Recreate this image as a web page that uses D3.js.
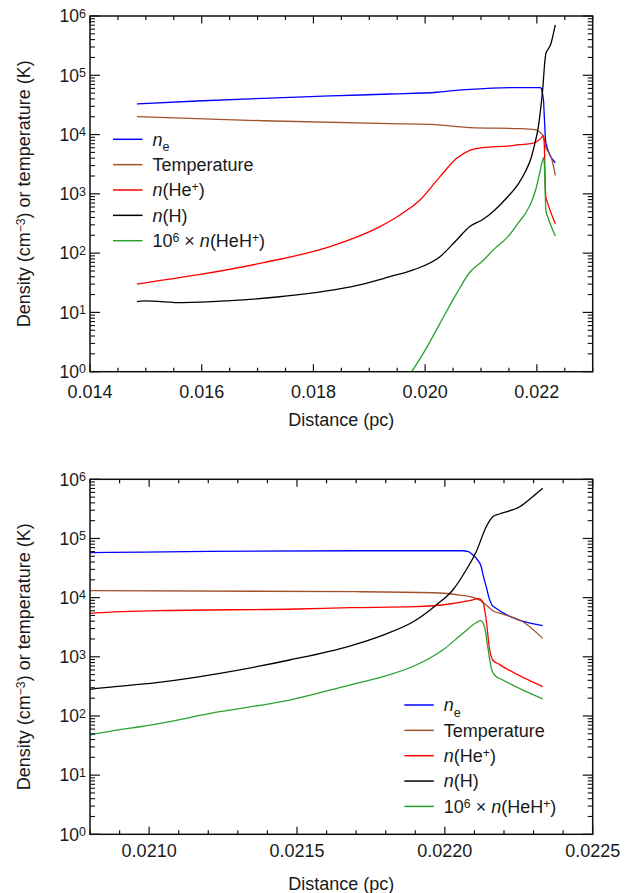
<!DOCTYPE html>
<html><head><meta charset="utf-8">
<script src="https://cdn.jsdelivr.net/npm/d3@7"></script>
<style>
body{margin:0;background:#fff}
text{font-family:"Liberation Sans",Arial,Helvetica,sans-serif;fill:#1a1a1a}
</style>
</head><body>
<svg id="c" width="630" height="893"></svg>
<script>
// ---------------- data (distance in pc, value) ----------------
const neData = [
  [0.01484,3.28e4],[0.01592,3.68e4],[0.01710,4.09e4],[0.01830,4.48e4],[0.01937,4.83e4],
  [0.02021,5.17e4],[0.02050,5.5e4],[0.02080,5.78e4],[0.02098,5.9e4],[0.02120,6.05e4],
  [0.02170,6.2e4],[0.02206,6.2e4],[0.02208,6.0e4],[0.022095,5.25e4],[0.022111,4.32e4],
  [0.022123,3.33e4],[0.022128,2.58e4],[0.02214,1.53e4],[0.02215,9.7e3],[0.022162,7.2e3],
  [0.022331,3.35e3]
];
const tempData = [
  [0.01484,2.0e4],[0.01710,1.71e4],[0.01937,1.53e4],[0.02009,1.49e4],[0.02040,1.42e4],[0.02057,1.36e4],
  [0.02080,1.31e4],[0.02170,1.26e4],[0.021959,1.21e4],[0.02205,1.107e4],[0.022106,9.7e3],
  [0.02214,7.5e3],[0.022162,6.0e3],[0.022196,5.28e3],[0.022264,3.92e3],[0.022331,2.05e3]
];
const heData = [
  [0.01484,30.1],[0.015916,42.8],[0.017103,69],[0.018297,128.5],[0.01919,280],[0.01955,440],
  [0.019908,787],[0.020266,1950],[0.020565,3980],[0.02080,5430],[0.021025,6010],[0.02150,6430],
  [0.02168,6760],[0.02190,7030],[0.022016,7800],[0.022083,8870],[0.022115,9600],[0.022128,8530],
  [0.02214,4190],[0.02215,1480],[0.022162,883],[0.022184,746],[0.022331,313]
];
const hData = [
  [0.01484,15.2],[0.01497,15.6],[0.01567,14.6],[0.01651,15.8],[0.01770,19.7],[0.01889,30.1],
  [0.019371,40.1],[0.019789,52],[0.020266,87],[0.020565,167],[0.02080,282],[0.021025,365],
  [0.021239,526],[0.021475,883],[0.021678,1520],[0.021791,2330],[0.021903,4190],[0.021971,7500],
  [0.022027,1.346e4],[0.022072,2.93e4],[0.022106,5.97e4],[0.02214,1.58e5],[0.022162,2.33e5],
  [0.022184,2.59e5],[0.022253,3.44e5],[0.022297,5.08e5],[0.022331,7.05e5]
];
const hehData = [
  [0.01960,0.57],[0.01976,1.0],[0.019967,2.04],[0.020266,6.55],[0.020565,21.0],[0.02080,47.6],
  [0.021025,73.1],[0.021239,118],[0.021475,186],[0.021678,333],[0.021791,461],[0.021903,726],
  [0.021993,1303],[0.022061,2495],[0.022106,3767],[0.022121,4074],[0.022134,3228],[0.022145,1483],
  [0.022157,638],[0.022168,492],[0.022196,406],[0.022331,194]
];
const yTickValues = [1,10,100,1e3,1e4,1e5,1e6];
const xTicksTop = [0.014,0.016,0.018,0.020,0.022];
const xTicksBottom = [0.0210,0.0215,0.0220,0.0225];

const seriesList = [
  {data:neData,   color:"#0000ff", label:[{t:"n",i:1},{t:"e",sub:1}]},
  {data:tempData, color:"#a0522d", label:[{t:"Temperature"}]},
  {data:heData,   color:"#ff0000", label:[{t:"n",i:1},{t:"(He"},{t:"+",sup:1},{t:")"}]},
  {data:hData,    color:"#000000", label:[{t:"n",i:1},{t:"(H)"}]},
  {data:hehData,  color:"#2ca02c", label:[{t:"10"},{t:"6",sup:1},{t:" \u00d7 "},{t:"n",i:1},{t:"(HeH"},{t:"+",sup:1},{t:")"}]}
];

// ---------------- layout ----------------
const panels = [
  {x0:90,x1:592.7,y0:16,y1:371.7,domain:[0.014,0.023],majors:xTicksTop,minorStep:0.0005,fmt:d3.format(".3f"),
   labelDy:26.5,titleY:426,legX:113,legY:139.3},
  {x0:90,x1:592.7,y0:479.3,y1:834.3,domain:[0.0208,0.0225],majors:xTicksBottom,minorStep:0.0001,fmt:d3.format(".4f"),
   labelDy:23,titleY:889.5,legX:404.3,legY:705}
];

const svg = d3.select("#c");

function richText(sel, parts, baseSize){
  let shift = 0;
  parts.forEach(p=>{
    const ts = sel.append("tspan").text(p.t);
    let target = 0, size = baseSize;
    if(p.sup){target=-5; size=baseSize*0.68;}
    if(p.sub){target=5.5; size=baseSize*0.7;}
    ts.attr("dy", target-shift).attr("font-size", size);
    if(p.i) ts.attr("font-style","italic");
    shift = target;
  });
}

panels.forEach((P,pi)=>{
  const x = d3.scaleLinear().domain(P.domain).range([P.x0,P.x1]);
  const y = d3.scaleLog().domain([1,1e6]).range([P.y1,P.y0]);
  const g = svg.append("g");
  const clipId = "clip"+pi;
  svg.append("clipPath").attr("id",clipId).append("rect")
    .attr("x",P.x0).attr("y",P.y0).attr("width",P.x1-P.x0).attr("height",P.y1-P.y0);

  // curves
  const line = d3.line().x(d=>x(d[0])).y(d=>y(d[1])).curve(d3.curveMonotoneX);
  const cg = g.append("g").attr("clip-path",`url(#${clipId})`);
  seriesList.forEach(s=>{
    cg.append("path").attr("d",line(s.data)).attr("fill","none")
      .attr("stroke",s.color).attr("stroke-width",1.3).attr("stroke-linejoin","round");
  });

  // frame
  g.append("rect").attr("x",P.x0).attr("y",P.y0).attr("width",P.x1-P.x0).attr("height",P.y1-P.y0)
    .attr("fill","none").attr("stroke","#111").attr("stroke-width",1.5);

  // x ticks
  const [d0,d1] = P.domain;
  const nMinor = Math.round((d1-d0)/P.minorStep);
  const minors = d3.range(0,nMinor+1).map(i=>d0+i*P.minorStep);
  const isMajor = v => P.majors.some(m=>Math.abs(m-v)<P.minorStep/10);
  minors.forEach(v=>{
    const len = isMajor(v)?7.5:4;
    const px = x(v);
    g.append("line").attr("x1",px).attr("x2",px).attr("y1",P.y1).attr("y2",P.y1-len).attr("stroke","#111").attr("stroke-width",1.2);
    g.append("line").attr("x1",px).attr("x2",px).attr("y1",P.y0).attr("y2",P.y0+len).attr("stroke","#111").attr("stroke-width",1.2);
  });
  P.majors.forEach(v=>{
    g.append("text").attr("x",x(v)).attr("y",P.y1+P.labelDy).attr("text-anchor","middle")
      .attr("font-size",18).text(P.fmt(v));
  });

  // y ticks
  const yMinor = [];
  for(let k=0;k<6;k++){for(let m=2;m<=9;m++) yMinor.push(m*Math.pow(10,k));}
  yMinor.forEach(v=>{
    const py=y(v);
    g.append("line").attr("x1",P.x0).attr("x2",P.x0+5).attr("y1",py).attr("y2",py).attr("stroke","#111").attr("stroke-width",1.1);
    g.append("line").attr("x1",P.x1).attr("x2",P.x1-5).attr("y1",py).attr("y2",py).attr("stroke","#111").attr("stroke-width",1.1);
  });
  yTickValues.forEach(v=>{
    const py=y(v);
    g.append("line").attr("x1",P.x0).attr("x2",P.x0+10).attr("y1",py).attr("y2",py).attr("stroke","#111").attr("stroke-width",1.2);
    g.append("line").attr("x1",P.x1).attr("x2",P.x1-10).attr("y1",py).attr("y2",py).attr("stroke","#111").attr("stroke-width",1.2);
    const t = g.append("text").attr("x",86).attr("y",py+6.3).attr("text-anchor","end").attr("font-size",17.5);
    t.append("tspan").text("10");
    t.append("tspan").attr("dy",-4.6).attr("font-size",12.5).text(String(Math.round(Math.log10(v))));
  });

  // axis titles
  g.append("text").attr("x",(P.x0+P.x1)/2).attr("y",P.titleY).attr("text-anchor","middle")
    .attr("font-size",18).text("Distance (pc)");
  const cy = (P.y0+P.y1)/2;
  const yt = g.append("text").attr("transform",`translate(30,${cy}) rotate(-90)`).attr("text-anchor","middle").attr("font-size",18);
  richText(yt,[{t:"Density (cm"},{t:"\u22123",sup:1},{t:") or temperature (K)"}],18);

  // legend
  seriesList.forEach((s,i)=>{
    const ly = P.legY + i*25.35;
    g.append("line").attr("x1",P.legX).attr("x2",P.legX+29.5).attr("y1",ly).attr("y2",ly)
      .attr("stroke",s.color).attr("stroke-width",1.5);
    const t = g.append("text").attr("x",P.legX+39.5).attr("y",ly+6.3).attr("font-size",18);
    richText(t,s.label,18);
  });
});
</script>
</body></html>
